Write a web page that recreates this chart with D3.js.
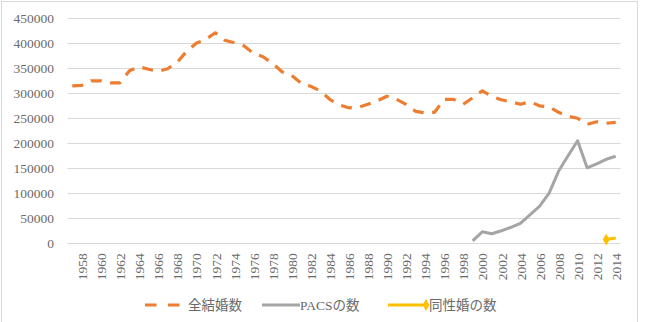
<!DOCTYPE html>
<html>
<head>
<meta charset="utf-8">
<script src="https://cdn.jsdelivr.net/npm/d3@7"></script>
<style>
  html, body { margin: 0; padding: 0; background: #ffffff; }
  svg { display: block; }
  svg text { font-family: "Liberation Serif", "Times New Roman", "DejaVu Serif", "Noto Sans CJK JP", serif !important; fill: #6a6a6a; }
</style>
</head>
<body>
<svg id="chart" width="648" height="322"></svg>
<script>
// ---- data ----
const years = [1957,1958,1959,1960,1961,1962,1963,1964,1965,1966,1967,1968,1969,1970,1971,1972,1973,1974,1975,1976,1977,1978,1979,1980,1981,1982,1983,1984,1985,1986,1987,1988,1989,1990,1991,1992,1993,1994,1995,1996,1997,1998,1999,2000,2001,2002,2003,2004,2005,2006,2007,2008,2009,2010,2011,2012,2013,2014];
const tickYears = [1958,1960,1962,1964,1966,1968,1970,1972,1974,1976,1978,1980,1982,1984,1986,1988,1990,1992,1994,1996,1998,2000,2002,2004,2006,2008,2010,2012,2014];
const yTicks = [0,50000,100000,150000,200000,250000,300000,350000,400000,450000];

const totalMarriages = [315000,316000,325000,325000,321000,321000,345000,353000,348000,344000,349000,362000,384000,400000,408000,421000,406000,401000,395000,380000,373000,360000,343000,336000,320000,314000,305000,288000,277000,271000,272000,278000,285000,294000,288000,278000,264000,261000,262000,288000,288000,278000,291000,305000,294000,287000,283000,278000,283000,275000,273000,262000,254000,250000,238000,243000,240000,242000];

const pacsYears = [1999,2000,2001,2002,2003,2004,2005,2006,2007,2008,2009,2010,2011,2012,2013,2014];
const pacsValues = [5000,23000,19000,25000,32000,40000,57000,74000,100000,144000,175000,205000,151000,159000,168000,174000];

const sameSexYears = [2013,2014];
const sameSexValues = [7500,10500];

const seriesNames = ["全結婚数","PACSの数","同性婚の数"];
const colors = ["#ED7D31","#A5A5A5","#FFC000"];

// ---- layout ----
const svg = d3.select("#chart");
const plot = {left: 67.5, right: 620.5, top: 18.3, bottom: 243.3};
const FONT = '"Liberation Serif", "Times New Roman", "DejaVu Serif", "Noto Sans CJK JP", serif';
const TXT = "#6a6a6a";

svg.append("rect")
  .attr("x", 1.5).attr("y", 1.5)
  .attr("width", 636).attr("height", 330)
  .attr("fill", "#fff").attr("stroke", "#D9D9D9").attr("stroke-width", 1);

const x = d3.scalePoint().domain(years).range([plot.left, plot.right]).padding(0.5);
const y = d3.scaleLinear().domain([0, 450000]).range([plot.bottom, plot.top]);

// gridlines
svg.append("g").selectAll("line").data(yTicks).join("line")
  .attr("x1", plot.left).attr("x2", plot.right)
  .attr("y1", d => Math.round(y(d)) + 0.5).attr("y2", d => Math.round(y(d)) + 0.5)
  .attr("stroke", "#D9D9D9").attr("stroke-width", 1);

// y axis labels
const yAxis = d3.axisLeft(y).tickValues(yTicks).tickSize(0).tickPadding(0).tickFormat(d => String(d));
const gy = svg.append("g").attr("transform", `translate(54,0)`).call(yAxis);
gy.attr("font-family", null).attr("font-size", null);
gy.select(".domain").remove();
gy.selectAll("text").style("font-size", "13.5px").style("fill", TXT).style("font-family", FONT);

// x axis labels (rotated)
const xAxis = d3.axisBottom(x).tickValues(tickYears).tickSize(0).tickFormat(d => String(d));
const gx = svg.append("g").attr("transform", `translate(0,${plot.bottom})`).call(xAxis);
gx.attr("font-family", null).attr("font-size", null);
gx.select(".domain").remove();
gx.selectAll("text")
  .style("font-size", "13.5px").style("fill", TXT).style("font-family", FONT)
  .attr("transform", "rotate(-90)")
  .attr("text-anchor", "end")
  .attr("x", -10).attr("y", 0).attr("dy", "0.35em");

// lines
const line = d3.line().x(d => x(d[0])).y(d => y(d[1]));

svg.append("path")
  .datum(years.map((yr, i) => [yr, totalMarriages[i]]))
  .attr("d", line).attr("fill", "none")
  .attr("stroke", colors[0]).attr("stroke-width", 3.2)
  .attr("stroke-dasharray", "11,8.5").attr("stroke-linejoin", "round");

svg.append("path")
  .datum(pacsYears.map((yr, i) => [yr, pacsValues[i]]))
  .attr("d", line).attr("fill", "none")
  .attr("stroke", colors[1]).attr("stroke-width", 3)
  .attr("stroke-linejoin", "round");

svg.append("path")
  .datum(sameSexYears.map((yr, i) => [yr, sameSexValues[i]]))
  .attr("d", line).attr("fill", "none")
  .attr("stroke", colors[2]).attr("stroke-width", 3);

const diamond = d3.symbol().type(d3.symbolDiamond).size(40);
svg.append("g").selectAll("path").data(sameSexYears.slice(0,1).map((yr, i) => [yr, sameSexValues[i]])).join("path")
  .attr("d", diamond)
  .attr("transform", d => `translate(${x(d[0])},${y(d[1])})`)
  .attr("fill", colors[2]);

// legend
const legY = 305;
const leg = svg.append("g");
leg.append("line").attr("x1", 145).attr("x2", 180).attr("y1", legY).attr("y2", legY)
  .attr("stroke", colors[0]).attr("stroke-width", 3.2).attr("stroke-dasharray", "11.5,11.5");
leg.append("text").attr("x", 188).attr("y", legY).attr("dy", "0.35em")
  .style("font-size", "13.5px").style("fill", TXT).style("font-family", FONT).text(seriesNames[0]);

leg.append("line").attr("x1", 262).attr("x2", 300).attr("y1", legY).attr("y2", legY)
  .attr("stroke", colors[1]).attr("stroke-width", 3);
leg.append("text").attr("x", 300).attr("y", legY).attr("dy", "0.35em")
  .style("font-size", "13.5px").style("fill", TXT).style("font-family", FONT).text(seriesNames[1]);

leg.append("line").attr("x1", 388).attr("x2", 426).attr("y1", legY).attr("y2", legY)
  .attr("stroke", colors[2]).attr("stroke-width", 3);
leg.append("path").attr("d", diamond).attr("transform", `translate(426,${legY})`).attr("fill", colors[2]);
leg.append("text").attr("x", 429).attr("y", legY).attr("dy", "0.35em")
  .style("font-size", "13.5px").style("fill", TXT).style("font-family", FONT).text(seriesNames[2]);
</script>
</body>
</html>
